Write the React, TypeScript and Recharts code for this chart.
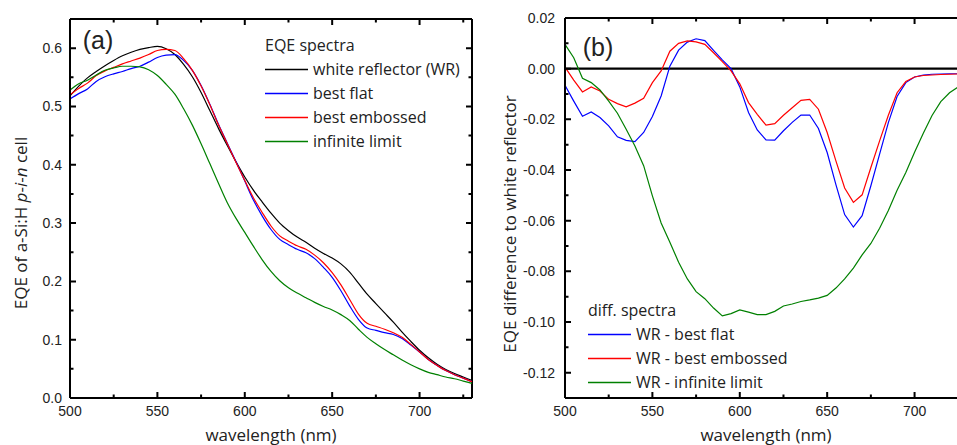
import React from 'react';
import { LineChart, Line, XAxis, YAxis, ReferenceLine, ReferenceArea, Legend } from 'recharts';

// wavelength grid (nm), same for both panels
const wavelengths = [
  500, 505, 510, 515, 520, 525, 530, 535, 540, 545, 550, 555, 560, 565, 570, 575,
  580, 585, 590, 595, 600, 605, 610, 615, 620, 625, 630, 635, 640, 645, 650, 655,
  660, 665, 670, 675, 680, 685, 690, 695, 700, 705, 710, 715, 720, 725, 730,
];

// panel (a): EQE spectra
const eqeWhiteReflector = [
  0.518, 0.535, 0.549, 0.56, 0.57, 0.579, 0.587, 0.593, 0.598, 0.601, 0.603, 0.599, 0.589, 0.572, 0.551, 0.524,
  0.493, 0.462, 0.433, 0.405, 0.379, 0.356, 0.336, 0.317, 0.3, 0.287, 0.276, 0.267, 0.257, 0.248, 0.24, 0.23,
  0.216, 0.197, 0.178, 0.162, 0.146, 0.13, 0.113, 0.097, 0.082, 0.069, 0.058, 0.049, 0.042, 0.036, 0.03,
];
const eqeBestFlat = [
  0.513, 0.522, 0.53, 0.543, 0.551, 0.556, 0.56, 0.565, 0.569, 0.576, 0.584, 0.588, 0.589, 0.579, 0.562, 0.536,
  0.504, 0.469, 0.437, 0.405, 0.372, 0.339, 0.312, 0.289, 0.272, 0.263, 0.255, 0.249, 0.239, 0.224, 0.207, 0.184,
  0.158, 0.135, 0.12, 0.116, 0.112, 0.109, 0.102, 0.091, 0.079, 0.066, 0.056, 0.047, 0.04, 0.034, 0.028,
];
const eqeBestEmbossed = [
  0.52, 0.531, 0.54, 0.553, 0.561, 0.567, 0.573, 0.578, 0.583, 0.589, 0.596, 0.598, 0.596, 0.582, 0.562, 0.535,
  0.503, 0.468, 0.436, 0.404, 0.373, 0.343, 0.318, 0.295, 0.278, 0.269, 0.261, 0.255, 0.245, 0.232, 0.215, 0.194,
  0.169, 0.144, 0.128, 0.123, 0.118, 0.112, 0.104, 0.092, 0.079, 0.066, 0.056, 0.047, 0.04, 0.034, 0.028,
];
const eqeInfiniteLimit = [
  0.528, 0.539, 0.545, 0.554, 0.562, 0.566, 0.569, 0.569, 0.568, 0.563, 0.553, 0.538, 0.521, 0.496, 0.468, 0.436,
  0.402, 0.368, 0.335, 0.308, 0.284, 0.26, 0.237, 0.217, 0.201, 0.189, 0.18, 0.172, 0.164, 0.157, 0.151, 0.143,
  0.133, 0.118, 0.104, 0.093, 0.083, 0.074, 0.065, 0.057, 0.05, 0.044, 0.04, 0.036, 0.033, 0.029, 0.025,
];

// panel (b): differences to the white reflector
const diffBestFlat = [
  -0.0066, -0.0128, -0.0188, -0.0171, -0.0193, -0.0226, -0.0269, -0.0283, -0.0288, -0.0252, -0.0189, -0.0108,
  0.001, 0.0073, 0.0105, 0.0118, 0.0111, 0.0072, 0.0035, 0.0, -0.0072, -0.0173, -0.0242, -0.0281, -0.0282,
  -0.0245, -0.0212, -0.0183, -0.0183, -0.0236, -0.0331, -0.0458, -0.0576, -0.0625, -0.058, -0.0462, -0.0337,
  -0.0213, -0.011, -0.0055, -0.0033, -0.0025, -0.0022, -0.0021, -0.002, -0.002, -0.0019,
];
const diffBestEmbossed = [
  0.0006, -0.0045, -0.0092, -0.0072, -0.0088, -0.0121, -0.0138, -0.0151, -0.0136, -0.0117, -0.0055, -0.0009,
  0.0069, 0.01, 0.011, 0.0106, 0.0096, 0.0063, 0.0028, -0.0009, -0.006, -0.0134, -0.018, -0.0223, -0.0217,
  -0.0184, -0.0154, -0.0125, -0.0121, -0.016, -0.0252, -0.0364, -0.0471, -0.0528, -0.0498, -0.039, -0.0285,
  -0.0184, -0.0095, -0.0051, -0.0033, -0.0027, -0.0025, -0.0023, -0.0022, -0.0021, -0.002,
];
const diffInfiniteLimit = [
  0.0096, 0.0043, -0.0038, -0.0055, -0.0084, -0.0128, -0.0176, -0.0239, -0.0305, -0.0383, -0.0502, -0.0609,
  -0.0685, -0.0764, -0.083, -0.088, -0.0908, -0.0945, -0.0976, -0.0967, -0.0952, -0.0961, -0.0971, -0.0971,
  -0.0958, -0.0937, -0.0929, -0.0919, -0.0913, -0.0906, -0.0895, -0.0866, -0.083, -0.0787, -0.0735, -0.069,
  -0.063, -0.056, -0.048, -0.041, -0.033, -0.0255, -0.0185, -0.013, -0.0095, -0.0072, -0.0055,
];

// legend names, in legend order
const eqeNames = ['white reflector (WR)', 'best flat', 'best embossed', 'infinite limit'];
const diffNames = ['WR - best flat', 'WR - best embossed', 'WR - infinite limit'];

// ticks
const xTicks = [500, 525, 550, 575, 600, 625, 650, 675, 700, 725];
const xMajor = [500, 550, 600, 650, 700];
const eqeTicks = [0, 0.05, 0.1, 0.15, 0.2, 0.25, 0.3, 0.35, 0.4, 0.45, 0.5, 0.55, 0.6, 0.65];
const eqeMajor = [0, 0.1, 0.2, 0.3, 0.4, 0.5, 0.6];
const diffTicks = [-0.13, -0.12, -0.11, -0.1, -0.09, -0.08, -0.07, -0.06, -0.05, -0.04, -0.03, -0.02, -0.01, 0, 0.01, 0.02];
const diffMajor = [-0.12, -0.1, -0.08, -0.06, -0.04, -0.02, 0, 0.02];

const eqeData = wavelengths.map((wl, i) => ({
  wl,
  wr: eqeWhiteReflector[i],
  flat: eqeBestFlat[i],
  embossed: eqeBestEmbossed[i],
  infinite: eqeInfiniteLimit[i],
}));

const diffData = wavelengths.map((wl, i) => ({
  wl,
  flat: diffBestFlat[i],
  embossed: diffBestEmbossed[i],
  infinite: diffInfiniteLimit[i],
}));

const TICK_FONT = '"Liberation Sans", Arial, sans-serif';
const TEXT_FONT = '"Open Sans", sans-serif';

// plot box sizes, used to mirror the ticks on the opposite frame side
const PLOT_W = 402;
const PLOT_H_A = 379;
const PLOT_H_B = 380;

// inward major/minor ticks, mirrored onto the top/right frame, labels on majors
const makeTick = (side: 'left' | 'bottom', majors: number[], fmt: (v: number) => string, mirror: number, gap = 8) =>
  (props: any) => {
    const x = Number(props.x);
    const y = Number(props.y);
    const v = props.payload.value;
    const major = majors.some((m) => Math.abs(m - v) < 1e-9);
    const len = major ? 6 : 3.5;
    if (side === 'left') {
      return (
        <g>
          <path d={`M${x},${y}h${len}M${x + mirror},${y}h${-len}`} stroke="#000" strokeWidth={2} fill="none" />
          {major && (
            <text x={x - gap} y={y + 5} textAnchor="end" fontFamily={TICK_FONT} fontSize={14} fill="#222">
              {fmt(v)}
            </text>
          )}
        </g>
      );
    }
    return (
      <g>
        <path d={`M${x},${y}v${-len}M${x},${y - mirror}v${len}`} stroke="#000" strokeWidth={2} fill="none" />
        {major && (
          <text x={x} y={y + 18} textAnchor="middle" fontFamily={TICK_FONT} fontSize={14} fill="#222">
            {fmt(v)}
          </text>
        )}
      </g>
    );
  };

const XTitle = ({ tx, ty }: any) => (
  <text x={tx} y={ty} textAnchor="middle" fontFamily={TEXT_FONT} fontSize={17} fill="#222">
    wavelength (nm)
  </text>
);

const YTitle = ({ tx, ty, children }: any) => (
  <text
    x={tx}
    y={ty}
    transform={`rotate(-90 ${tx} ${ty})`}
    textAnchor="middle"
    dominantBaseline="central"
    fontFamily={TEXT_FONT}
    fontSize={17}
    fill="#222"
  >
    {children}
  </text>
);

const PanelTag = ({ tx, ty, text }: any) => (
  <text x={tx} y={ty} textAnchor="middle" fontFamily={TICK_FONT} fontSize={25} fill="#222">
    {text}
  </text>
);

const legendContent = (title: string, order: string[]) => (props: any) => {
  const items = order
    .map((n) => (props.payload || []).find((e: any) => e.value === n))
    .filter(Boolean);
  return (
    <div style={{ fontFamily: TEXT_FONT, fontSize: 16, color: '#222', lineHeight: '24px', textAlign: 'left' }}>
      <div>{title}</div>
      {items.map((e: any) => (
        <div key={e.value} style={{ display: 'flex', alignItems: 'center', whiteSpace: 'nowrap' }}>
          <svg width={43} height={3} style={{ marginRight: 5 }}>
            <line x1={0} y1={1.5} x2={43} y2={1.5} stroke={e.color} strokeWidth={1.5} />
          </svg>
          <span>{e.value}</span>
        </div>
      ))}
    </div>
  );
};

const frame = { stroke: '#000', strokeWidth: 2 };

const App = () => (
  <div
    style={{
      position: 'absolute',
      left: 0,
      top: 0,
      width: 957,
      height: 445,
      overflow: 'hidden',
      background: '#fff',
    }}
  >
    {/* (a) EQE spectra */}
    <div style={{ position: 'absolute', left: 0, top: 0 }}>
      <LineChart width={480} height={445} data={eqeData} margin={{ top: 19, right: 8, bottom: 0, left: 0 }}>
        <XAxis
          xAxisId="b"
          dataKey="wl"
          type="number"
          domain={[500, 730]}
          ticks={xTicks}
          interval={0}
          allowDataOverflow
          tickLine={false}
          tickSize={0}
          tickMargin={0}
          tick={makeTick('bottom', xMajor, (v) => String(v), PLOT_H_A)}
          height={47}
          axisLine={frame}
          label={<XTitle tx={271} ty={441} />}
        />
        <YAxis
          yAxisId="l"
          type="number"
          domain={[0, 0.65]}
          ticks={eqeTicks}
          interval={0}
          allowDataOverflow
          tickLine={false}
          tickSize={0}
          tickMargin={0}
          tick={makeTick('left', eqeMajor, (v) => v.toFixed(1), PLOT_W, 8)}
          width={70}
          axisLine={frame}
          label={
            <YTitle tx={20} ty={223}>
              EQE of a-Si:H <tspan fontStyle="italic">p</tspan>-<tspan fontStyle="italic">i</tspan>-
              <tspan fontStyle="italic">n</tspan> cell
            </YTitle>
          }
        />
        {/* top and right frame */}
        <ReferenceLine xAxisId="b" yAxisId="l" y={0.65} stroke="#000" strokeWidth={2} label={<PanelTag tx={98} ty={49} text="(a)" />} />
        <ReferenceLine xAxisId="b" yAxisId="l" x={730} stroke="#000" strokeWidth={2} />
        <Legend
          layout="vertical"
          align="center"
          verticalAlign="middle"
          content={legendContent('EQE spectra', eqeNames)}
          wrapperStyle={{ position: 'absolute', left: 265, top: 33, width: 210 }}
        />
        <Line xAxisId="b" yAxisId="l" type="monotone" dataKey="wr" name={eqeNames[0]} stroke="#000000" strokeWidth={1.2} dot={false} isAnimationActive={false} />
        <Line xAxisId="b" yAxisId="l" type="monotone" dataKey="flat" name={eqeNames[1]} stroke="#0000ff" strokeWidth={1.2} dot={false} isAnimationActive={false} />
        <Line xAxisId="b" yAxisId="l" type="monotone" dataKey="embossed" name={eqeNames[2]} stroke="#ff0000" strokeWidth={1.2} dot={false} isAnimationActive={false} />
        <Line xAxisId="b" yAxisId="l" type="monotone" dataKey="infinite" name={eqeNames[3]} stroke="#008000" strokeWidth={1.2} dot={false} isAnimationActive={false} />
      </LineChart>
    </div>

    {/* (b) difference spectra, right edge runs past the window */}
    <div style={{ position: 'absolute', left: 480, top: 0 }}>
      <LineChart width={500} height={445} data={diffData} margin={{ top: 18, right: 13, bottom: 0, left: 0 }}>
        <XAxis
          xAxisId="b"
          dataKey="wl"
          type="number"
          domain={[500, 730]}
          ticks={xTicks}
          interval={0}
          allowDataOverflow
          tickLine={false}
          tickSize={0}
          tickMargin={0}
          tick={makeTick('bottom', xMajor, (v) => String(v), PLOT_H_B)}
          height={47}
          axisLine={frame}
          label={<XTitle tx={286} ty={441} />}
        />
        <YAxis
          yAxisId="l"
          type="number"
          domain={[-0.13, 0.02]}
          ticks={diffTicks}
          interval={0}
          allowDataOverflow
          tickLine={false}
          tickSize={0}
          tickMargin={0}
          tick={makeTick('left', diffMajor, (v) => v.toFixed(2), PLOT_W, 10)}
          width={85}
          axisLine={frame}
          label={<YTitle tx={29} ty={224}>EQE difference to white reflector</YTitle>}
        />
        <ReferenceLine xAxisId="b" yAxisId="l" y={0.02} stroke="#000" strokeWidth={2} label={<PanelTag tx={118} ty={56} text="(b)" />} />
        <ReferenceLine xAxisId="b" yAxisId="l" y={0} stroke="#000" strokeWidth={2.2} />
        <Legend
          layout="vertical"
          align="center"
          verticalAlign="middle"
          content={legendContent('diff. spectra', diffNames)}
          wrapperStyle={{ position: 'absolute', left: 108, top: 298, width: 230 }}
        />
        <Line xAxisId="b" yAxisId="l" type="linear" dataKey="flat" name={diffNames[0]} stroke="#0000ff" strokeWidth={1.2} dot={false} isAnimationActive={false} />
        <Line xAxisId="b" yAxisId="l" type="linear" dataKey="embossed" name={diffNames[1]} stroke="#ff0000" strokeWidth={1.2} dot={false} isAnimationActive={false} />
        <Line xAxisId="b" yAxisId="l" type="linear" dataKey="infinite" name={diffNames[2]} stroke="#008000" strokeWidth={1.2} dot={false} isAnimationActive={false} />
      </LineChart>
    </div>
  </div>
);

export default App;
